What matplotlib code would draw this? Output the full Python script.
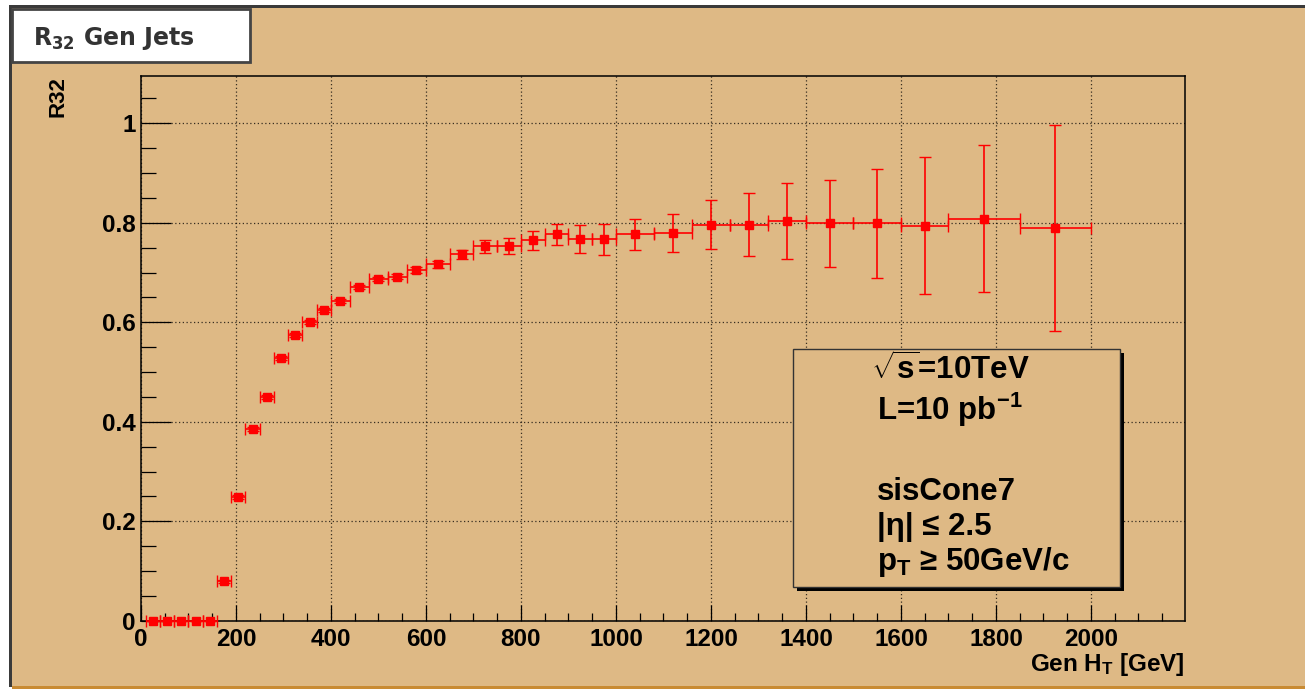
"""R32 vs Gen HT, ROOT-style canvas redrawn with matplotlib."""

import numpy as np
import matplotlib
matplotlib.use("Agg")
import matplotlib.pyplot as plt
from matplotlib.patches import Rectangle

# bin edges in Gen HT [GeV] and measured R32 per bin
bin_edges = [10, 40, 70, 100, 130, 160, 190, 220, 250, 280, 310, 340, 370, 400,
             440, 480, 520, 560, 600,
             650, 700, 750, 800, 850, 900, 950, 1000,
             1080, 1160, 1240, 1320, 1400,
             1500, 1600, 1700, 1850, 2000]
r32 = [0.0, 0.0, 0.0, 0.0, 0.0,
       0.079, 0.248, 0.385, 0.449, 0.528, 0.574, 0.600, 0.624,
       0.643, 0.670, 0.687, 0.692, 0.705,
       0.717, 0.737, 0.753, 0.753, 0.765, 0.777, 0.767, 0.767,
       0.777, 0.780, 0.796, 0.796, 0.804,
       0.799, 0.799, 0.794, 0.808, 0.790]
r32_err = [0.0, 0.0, 0.0, 0.0, 0.0,
           0.003, 0.004, 0.004, 0.004, 0.004, 0.004, 0.004, 0.004,
           0.004, 0.004, 0.004, 0.005, 0.006,
           0.007, 0.009, 0.013, 0.016, 0.019, 0.021, 0.028, 0.031,
           0.031, 0.038, 0.049, 0.063, 0.076,
           0.087, 0.110, 0.138, 0.148, 0.207]

xticks = [0, 200, 400, 600, 800, 1000, 1200, 1400, 1600, 1800, 2000]
yticks = [0, 0.2, 0.4, 0.6, 0.8, 1.0]
ytick_labels = ["0", "0.2", "0.4", "0.6", "0.8", "1"]

title_text = r"R$_{\mathbf{32}}$ Gen Jets"
info_lines = [r"$\sqrt{s}$=10TeV", r"L=10 pb$^{-1}$", "sisCone7",
              "|η| ≤ 2.5", r"p$_{\rm T}$ ≥ 50GeV/c"]

TAN = "#DEB985"
W, H = 1305, 689

plt.rcParams["font.family"] = ["Liberation Sans", "DejaVu Sans"]
plt.rcParams["font.weight"] = "bold"
plt.rcParams["mathtext.fontset"] = "custom"
plt.rcParams["mathtext.rm"] = "Liberation Sans:bold"
plt.rcParams["mathtext.bf"] = "Liberation Sans:bold"
plt.rcParams["mathtext.it"] = "Liberation Sans:bold"


def fx(px):
    return px / W


def fy(py):
    return 1 - py / H


def fig_rect(fig, x0, y0, x1, y1, **kw):
    r = Rectangle((fx(x0), fy(y1)), (x1 - x0) / W, (y1 - y0) / H,
                  transform=fig.transFigure, **kw)
    fig.add_artist(r)
    return r


fig = plt.figure(figsize=(W / 100, H / 100), dpi=100, facecolor="white")

# canvas frame
fig_rect(fig, 10, 6, W, 687, facecolor=TAN, edgecolor="none", zorder=-5)
fig_rect(fig, 9, 6, 12, 687, facecolor="#3a3a3a", edgecolor="none", zorder=-4)
fig_rect(fig, 9, 5, W, 8, facecolor="#3a3a3a", edgecolor="none", zorder=-4)
fig_rect(fig, 12, 686, W, 689, facecolor="#C98B33", edgecolor="none", zorder=-4)

ax = fig.add_axes([fx(141), fy(620.8), (1185 - 141) / W, (620.8 - 76) / H])
ax.set_facecolor("none")

edges = np.array(bin_edges)
centers = (edges[:-1] + edges[1:]) / 2
half_w = (edges[1:] - edges[:-1]) / 2

eb = ax.errorbar(centers, r32, xerr=half_w, yerr=r32_err, fmt="s",
                 color="#FF0000", ms=6, elinewidth=1.2, capsize=4,
                 capthick=1.0, zorder=3)
for art in eb.lines[0:1] + tuple(eb.lines[1]) + tuple(eb.lines[2]):
    art.set_clip_on(False)

ax.set_xlim(0, 2198)
ax.set_ylim(0, 1.095)
ax.set_xticks(xticks)
ax.set_xticks(np.arange(0, 2200, 50), minor=True)
ax.set_yticks(yticks)
ax.set_yticklabels(ytick_labels)
ax.set_yticks(np.arange(0, 1.1, 0.05), minor=True)

ax.grid(True, which="major", color="black", linestyle=(0, (1, 2)),
        linewidth=0.9, alpha=0.75)
ax.tick_params(axis="both", which="both", direction="in", top=False,
               right=False, width=0.9, colors="black", labelsize=17.5)
ax.tick_params(axis="x", which="major", length=11.5, pad=5)
ax.tick_params(axis="x", which="minor", length=5.8)
ax.tick_params(axis="y", which="major", length=21.5, pad=4)
ax.tick_params(axis="y", which="minor", length=10.8)
for s in ax.spines.values():
    s.set_linewidth(1.1)
    s.set_color("black")

# axis titles (ROOT style: aligned to axis ends)
fig.text(fx(58), fy(76), "R32", rotation=90, ha="center", va="top",
         fontsize=16)
fig.text(fx(1185), fy(671), r"Gen H$_{\rm T}$ [GeV]", ha="right",
         va="baseline", fontsize=17.5)

# title box
fig_rect(fig, 12, 9, 250, 62, facecolor="white", edgecolor="#444444",
         linewidth=2, zorder=5)
fig.text(fx(33), fy(45), title_text, ha="left", va="baseline",
         fontsize=17, color="#333333", family="DejaVu Sans",
         math_fontfamily="dejavusans", zorder=6)

# info box with shadow
fig_rect(fig, 797, 353, 1124, 591, facecolor="black", edgecolor="none",
         zorder=5)
fig_rect(fig, 793, 349, 1120, 587, facecolor=TAN, edgecolor="#333333",
         linewidth=1, zorder=6)
line_x = [871, 877, 877, 877, 877]
line_y = [380, 420, 500, 535, 570]
for txt, lx, ly in zip(info_lines, line_x, line_y):
    fig.text(fx(lx), fy(ly), txt, ha="left", va="baseline", fontsize=22.5,
             zorder=7)

fig.savefig("out.png", dpi=100, facecolor=fig.get_facecolor())
